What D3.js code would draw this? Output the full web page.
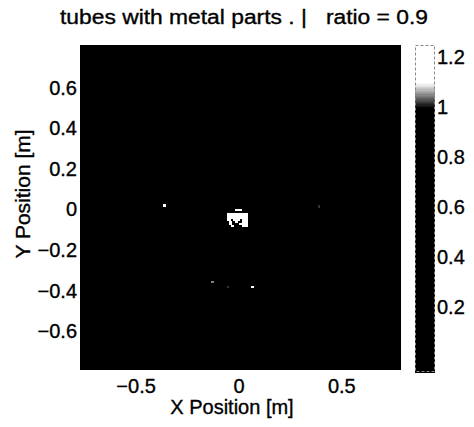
<!DOCTYPE html>
<html><head><meta charset="utf-8">
<script src="https://cdn.jsdelivr.net/npm/d3@7/dist/d3.min.js"></script>
<style>
body{margin:0;background:#fff}
text{font-family:Arial,"Liberation Sans",sans-serif;fill:#000;stroke:#000;stroke-width:0.35px}
</style>
</head><body>
<svg id="c" width="474" height="427"></svg>
<script>
// ---- data ----
const titleText = "tubes with metal parts . |   ratio = 0.9";
const xLabel = "X Position [m]";
const yLabel = "Y Position [m]";
const xTicks = [-0.5, 0, 0.5];
const yTicks = [-0.6, -0.4, -0.2, 0, 0.2, 0.4, 0.6];
const cTicks = [0.2, 0.4, 0.6, 0.8, 1, 1.2];
const xDomain = [-0.77, 0.79];
const yDomain = [-0.79, 0.81];
const cDomain = [-0.06, 1.25];
const cellSize = 0.01;
const backgroundValue = 0;
// central hot spot (rows top->bottom, cols left->right), cell centres start here
const blobX0 = -0.05;
const blobY0 = 0.0;
const blobRows = [
  [0,0,0,0,1.1,1.2,1.1,0,0,0],
  [0,0,0,0,0,0,0,0,0,0],
  [1.2,1.2,1.2,1.2,1.2,1.2,1.2,1.2,1.2,1.2],
  [1.2,1.2,1.2,1.2,1.2,1.2,1.2,1.2,1.2,1.2],
  [1.2,1.2,1.2,1.2,1.2,1.2,1.2,1.2,1.2,1.2],
  [1.1,1.2,0.5,1.2,1.2,1.2,0,1.2,1.2,1.2],
  [0,1.2,0,0,1.2,0,0,1.2,1.2,1.2],
  [0,1.1,0,0,0,0,1.2,1.2,1.2,1.2],
  [0,0,1.1,0,0,0,0,1.2,1.2,1.1]
];
// isolated bright pixels
const dotX = [-0.36, 0.39, -0.126, -0.053, 0.068];
const dotY = [0.02, 0.015, -0.355, -0.38, -0.38];
const dotV = [1.15, 1.02, 1.05, 1.02, 1.2];

// ---- layout ----
const plot = {left: 80, right: 401, top: 45, bottom: 370};
const cbar = {left: 415, right: 435, top: 45, bottom: 372};
const fs = 20;

const svg = d3.select("#c");
const x = d3.scaleLinear().domain(xDomain).range([plot.left, plot.right]);
const y = d3.scaleLinear().domain(yDomain).range([plot.bottom, plot.top]);
const color = d3.scaleLinear()
  .domain([cDomain[0], 1.0, 1.1, cDomain[1]])
  .range(["#000", "#000", "#fff", "#fff"]).clamp(true);

// heat map background
svg.append("rect")
  .attr("x", x(xDomain[0])).attr("y", y(yDomain[1]))
  .attr("width", x(xDomain[1]) - x(xDomain[0]))
  .attr("height", y(yDomain[0]) - y(yDomain[1]))
  .attr("fill", color(backgroundValue));

const cells = [];
blobRows.forEach((row, r) => row.forEach((v, c) => {
  if (v !== backgroundValue) cells.push({x: blobX0 + c * cellSize, y: blobY0 - r * cellSize, v});
}));
dotX.forEach((dx, i) => cells.push({x: dx, y: dotY[i], v: dotV[i]}));

svg.append("g").attr("shape-rendering", "crispEdges")
  .selectAll("rect").data(cells).join("rect")
  .attr("x", d => x(d.x - cellSize / 2))
  .attr("y", d => y(d.y + cellSize / 2))
  .attr("width", d => x(d.x + cellSize / 2) - x(d.x - cellSize / 2) + 0.6)
  .attr("height", d => y(d.y - cellSize / 2) - y(d.y + cellSize / 2) + 0.6)
  .attr("fill", d => color(d.v));

// axes
const xAxis = svg.append("g").attr("transform", `translate(0,${plot.bottom})`)
  .call(d3.axisBottom(x).tickValues(xTicks).tickSize(0).tickPadding(9).tickFormat(d3.format("")));
xAxis.select(".domain").remove();
xAxis.selectAll("text").style("font-size", fs + "px").attr("font-family", null);

const yAxis = svg.append("g").attr("transform", `translate(${plot.left},0)`)
  .call(d3.axisLeft(y).tickValues(yTicks).tickSize(0).tickPadding(3).tickFormat(d3.format("")));
yAxis.select(".domain").remove();
yAxis.selectAll("text").style("font-size", fs + "px").attr("font-family", null);

// colorbar
const cy = d3.scaleLinear().domain(cDomain).range([cbar.bottom, cbar.top]);
const steps = d3.range(cDomain[0], cDomain[1], 0.005);
svg.append("g").attr("shape-rendering", "crispEdges").selectAll("rect").data(steps).join("rect")
  .attr("x", cbar.left).attr("width", cbar.right - cbar.left)
  .attr("y", d => cy(Math.min(d + 0.005, cDomain[1])))
  .attr("height", d => cy(d) - cy(Math.min(d + 0.005, cDomain[1])) + 0.6)
  .attr("fill", d => color(d + 0.0025));
svg.append("rect").attr("x", cbar.left + 0.5).attr("y", cbar.top + 0.5)
  .attr("width", cbar.right - cbar.left - 1).attr("height", cbar.bottom - cbar.top - 1)
  .attr("fill", "none").attr("stroke", "#888").attr("stroke-dasharray", "3,2");

const cAxis = svg.append("g").attr("transform", `translate(${cbar.right},0)`)
  .call(d3.axisRight(cy).tickValues(cTicks).tickSize(0).tickPadding(2).tickFormat(d3.format("")));
cAxis.select(".domain").remove();
cAxis.selectAll("text").style("font-size", fs + "px").attr("font-family", null);

// title and labels
svg.append("text").attr("x", 60).attr("y", 24)
  .attr("text-anchor", "start").style("font-size", "20px").style("white-space", "pre")
  .attr("textLength", 368).attr("lengthAdjust", "spacingAndGlyphs")
  .text(titleText);
svg.append("text").attr("x", 232).attr("y", 414)
  .attr("text-anchor", "middle").style("font-size", fs + "px").text(xLabel);
svg.append("text").attr("transform", `translate(30,194) rotate(-90)`)
  .attr("text-anchor", "middle").style("font-size", "21px").text(yLabel);
</script>
</body></html>
